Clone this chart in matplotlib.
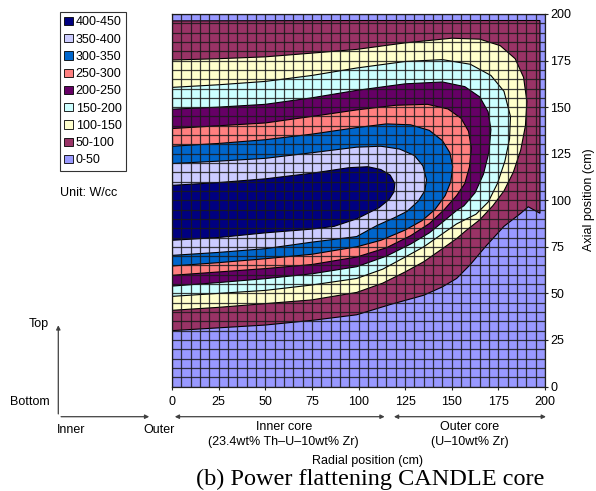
"""
Power distribution map of a power-flattened CANDLE core (Excel-style contour chart)
"""

import numpy as np
import matplotlib
matplotlib.use('Agg')
import matplotlib.pyplot as plt
import matplotlib.transforms as mtransforms
from matplotlib.patches import Patch, FancyArrowPatch

plt.rcParams['font.family'] = ['Liberation Sans', 'DejaVu Sans']

W, H = 596, 491

# Power bands (W/cc), lowest first
band_labels = ['0-50', '50-100', '100-150', '150-200', '200-250',
               '250-300', '300-350', '350-400', '400-450']
band_colors = ['#9999FF', '#993366', '#FFFFCC', '#CCFFFF', '#660066',
               '#FF8080', '#0066CC', '#CCCCFF', '#000080']

# Contour boundaries: radial r (cm), axial z (cm).
# Each loop runs along the upper branch outwards, then back along the lower branch.
c50_r = [0, 100, 197.3, 197.3, 191, 187, 178, 168, 160, 152.6, 145, 135, 117, 99, 75, 50, 25, 0]
c50_z = [196.3, 196.5, 196.5, 93, 96.5, 93, 86, 75, 65.5, 58, 53.5, 49, 44, 38.5, 35.5, 33, 31.5, 30]

c100_r = [0, 25, 50, 75, 99, 125, 150, 165, 176, 184, 188.5, 190.3,
          189.5, 187, 183, 178, 172, 165, 158, 152.6, 145, 135, 125, 113, 99, 75, 50, 25, 0]
c100_z = [175.3, 176, 177, 179, 181, 184.5, 187, 186.5, 183, 176, 166, 153,
          140, 127, 115, 105, 97, 89.5, 84, 79.4, 74, 67, 61.5, 55.5, 50.5, 46.5, 44.5, 42.5, 40.9]

c150_r = [0, 25, 50, 75, 99, 125, 145, 160, 171, 178, 181.5,
          181, 178.5, 174.5, 169.5, 163, 152.6, 145, 135, 125, 113, 99, 75, 50, 25, 0]
c150_z = [160.6, 162, 163.8, 167, 171, 174.5, 175.5, 173, 167, 158.5, 145,
          133, 121, 109, 99, 92.5, 87.3, 82, 75, 69.5, 63, 58, 54.5, 51.6, 50, 48.4]

c200_r = [0, 25, 50, 75, 99, 125, 145, 157, 165, 169.5, 171,
          170, 167, 162.5, 156.5, 152.6, 146, 138, 128, 115, 99, 75, 50, 25, 0]
c200_z = [148.9, 150, 151.5, 155, 159, 162.5, 163.5, 161, 155.5, 147.5, 138,
          126, 114, 104, 97, 94.5, 89, 82.5, 76.5, 70, 64.3, 60.5, 57.9, 55.8, 53.9]

c250_r = [0, 25, 50, 75, 99, 120, 137, 148, 155, 159, 160.5,
          159.5, 157, 152.6, 146, 138, 128, 115, 99, 75, 50, 25, 0]
c250_z = [138.5, 140, 141.5, 145, 148.5, 151, 151.5, 149, 144, 137, 128,
          118, 109, 102.5, 95, 87.5, 81, 74.5, 69.5, 65.5, 63.3, 61.5, 59.7]

c300_r = [0, 25, 50, 75, 99, 115, 128, 138, 145, 149, 150.5,
          149.5, 146.5, 141, 134, 125, 112, 99, 75, 50, 25, 0]
c300_z = [129, 130.5, 132.5, 135.5, 139, 141, 140.5, 137.5, 132, 125.5, 118,
          110, 102.5, 95, 89, 84, 78.5, 75, 71, 68.6, 66.5, 64.7]

c350_r = [0, 25, 50, 75, 99, 112, 122, 130, 134.5, 136.5,
          135.5, 132, 126, 119, 110, 99, 87, 75, 50, 25, 0]
c350_z = [119.7, 121, 122.5, 125.5, 128.5, 129, 127.5, 124, 118.5, 111,
          105, 99.5, 94, 90.5, 86.5, 80.5, 79, 77.5, 74, 72, 70.4]

c400_r = [0, 25, 50, 75, 95, 105, 112, 117, 119.5,
          119, 116.5, 111, 103, 99, 87, 75, 50, 25, 0]
c400_z = [108, 109.5, 111.5, 114.5, 117.5, 118, 116.5, 113.5, 109,
          104.5, 100.5, 96, 92, 90, 86, 84.5, 82.5, 80, 78.5]

bounds_r = [c50_r, c100_r, c150_r, c200_r, c250_r, c300_r, c350_r, c400_r]
bounds_z = [c50_z, c100_z, c150_z, c200_z, c250_z, c300_z, c350_z, c400_z]

# Core regions along the radius (cm)
inner_core_span = (0, 115.5)
outer_core_span = (117.5, 202)


def fpos(x, y):
    """Pixel position -> figure fraction."""
    return x / W, 1 - y / H


fig = plt.figure(figsize=(W / 100, H / 100), dpi=100)
ax = fig.add_axes([172 / W, 1 - 386.5 / H, (545 - 172) / W, (386.5 - 14) / H])

# Lowest band fills the background, higher bands are painted on top
ax.set_facecolor(band_colors[0])
for r, z, col in zip(bounds_r, bounds_z, band_colors[1:]):
    ax.fill(r, z, facecolor=col, edgecolor='black', linewidth=0.8, zorder=1)

ax.set_xlim(0, 200)
ax.set_ylim(0, 200)
ax.set_xticks(np.arange(0, 201, 25))
ax.set_yticks(np.arange(0, 201, 25))
ax.set_xticks(np.arange(0, 201, 5), minor=True)
ax.set_yticks(np.arange(0, 201, 5), minor=True)
ax.set_axisbelow(False)
ax.grid(which='both', color='#1a1a1a', linewidth=0.9, alpha=0.85)
ax.yaxis.tick_right()
ax.tick_params(which='minor', length=0)
ax.tick_params(which='major', length=2, labelsize=9, color='#202020')
ax.tick_params(axis='x', pad=4.5)
ax.tick_params(axis='y', pad=2)
for spine in ax.spines.values():
    spine.set_color('#202020')
    spine.set_linewidth(0.9)

fig.text(*fpos(589, 200), 'Axial position (cm)', rotation=90,
         ha='center', va='center', fontsize=9)

# Legend
handles = [Patch(facecolor=c, edgecolor='black', linewidth=0.6) for c in band_colors[::-1]]
leg = fig.legend(handles, band_labels[::-1], loc='upper left',
                 bbox_to_anchor=fpos(60, 12), borderaxespad=0,
                 frameon=True, fancybox=False, edgecolor='black', fontsize=9,
                 handlelength=0.65, handleheight=0.65, handletextpad=0.25,
                 labelspacing=0.42, borderpad=0.35)
leg.get_frame().set_linewidth(0.8)
fig.text(*fpos(60, 193), 'Unit: W/cc', ha='left', va='center', fontsize=9)

# Orientation sketch (bottom left)
arrow_kw = dict(transform=fig.transFigure, arrowstyle='-|>', mutation_scale=6,
                color='#404040', linewidth=0.9)
fig.add_artist(FancyArrowPatch(fpos(58.3, 416.7), fpos(58.3, 322.5), **arrow_kw))
fig.add_artist(FancyArrowPatch(fpos(58.3, 416.7), fpos(152, 416.7), **arrow_kw))
fig.text(*fpos(49, 323.5), 'Top', ha='right', va='center', fontsize=9)
fig.text(*fpos(50, 402), 'Bottom', ha='right', va='center', fontsize=9)
fig.text(*fpos(57, 430), 'Inner', ha='left', va='center', fontsize=9)
fig.text(*fpos(159, 430), 'Outer', ha='center', va='center', fontsize=9)

# Core region arrows under the radial axis
trans = mtransforms.blended_transform_factory(ax.transData, fig.transFigure)
y_arr = 1 - 416.7 / H
for span in (inner_core_span, outer_core_span):
    fig.add_artist(FancyArrowPatch((span[0], y_arr), (span[1], y_arr), transform=trans,
                                   arrowstyle='<|-|>', mutation_scale=6,
                                   color='#404040', linewidth=0.9))
fig.text(*fpos(284, 427), 'Inner core', ha='center', va='center', fontsize=9)
fig.text(*fpos(283, 442), '(23.4wt% Th\u2013U\u201310wt% Zr)', ha='center', va='center', fontsize=9)
fig.text(*fpos(469.5, 427), 'Outer core', ha='center', va='center', fontsize=9)
fig.text(*fpos(469.5, 442), '(U\u201310wt% Zr)', ha='center', va='center', fontsize=9)
fig.text(*fpos(367.5, 461), 'Radial position (cm)', ha='center', va='center', fontsize=9)

fig.text(*fpos(370, 479), '(b) Power flattening CANDLE core', ha='center', va='center',
         fontsize=17.5, family=['Liberation Serif', 'DejaVu Serif'])

fig.savefig('out.png', dpi=100)
plt.close(fig)
